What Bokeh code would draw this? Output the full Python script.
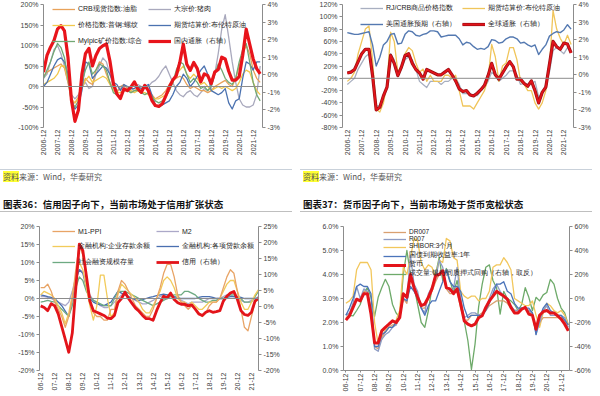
import math
from bokeh.plotting import figure
from bokeh.models import (Range1d, LinearAxis, FixedTicker, Span, Legend, LegendItem,
                          Div, PrintfTickFormatter)
from bokeh.layouts import column, row
from bokeh.embed import file_html
from bokeh.resources import INLINE

# ---------------- data (quarterly, month index 0 = 2006-12) ----------------
months = list(range(0, 187, 3))
year_ticks = [0, 12, 24, 36, 48, 60, 72, 84, 96, 108, 120, 132, 144, 156, 168, 180]
year_labels = ["2006-12", "2007-12", "2008-12", "2009-12", "2010-12", "2011-12", "2012-12",
               "2013-12", "2014-12", "2015-12", "2016-12", "2017-12", "2018-12", "2019-12",
               "2020-12", "2021-12"]
short_labels = ["06-12", "07-12", "08-12", "09-12", "10-12", "11-12", "12-12", "13-12",
                "14-12", "15-12", "16-12", "17-12", "18-12", "19-12", "20-12", "21-12"]

# Panel A (top-left)
a_oil = [25, 35, 40, 45, 50, 55, 45, 10, -35, -40, -25, 0, 20, 10, 5, 40, 60, 55, 30, 10, -5,
         -15, 0, 5, -5, -15, -10, -5, -5, 0, -10, -20, -30, -25, -20, -10, 5, 15, 20, 25, 20,
         5, -5, 0, -5, -10, -10, -15, -10, 0, 5, 10, 15, 5, 0, 20, 50, 80, 100, 80, 40, 20, 10]
a_pork = [20, 30, 60, 90, 100, 80, 50, 10, -20, -30, -20, 0, 10, -5, 0, 30, 50, 70, 60, 30, 0,
          -10, -5, 0, 0, -10, -5, 5, 0, -5, 0, 10, 15, 25, 40, 50, 30, 10, -10, -20, -25,
          -15, -10, -20, -25, -15, -5, -10, 0, 30, 80, 140, 175, 120, 60, 10, -30, -45, -50,
          -50, -45, -20, 50]
a_rebar = [5, 10, 15, 20, 30, 50, 50, 20, -30, -40, -30, -5, 15, 25, 10, 15, 20, 25, 20, 5,
           -10, -15, -15, -10, -5, -10, -15, -10, -15, -15, -20, -25, -30, -30, -25, -20, -10,
           10, 30, 40, 50, 30, 20, 30, 20, 5, 10, 0, -10, -5, 0, -5, 0, -5, -10, -5, 10, 30,
           40, 35, 10, -10, -20]
a_brent = [0, 10, 30, 50, 65, 70, 60, 30, -30, -55, -45, -10, 60, 55, 20, 30, 40, 50, 45, 30,
           10, 5, -10, 5, 0, -5, -5, 0, -5, 0, 5, -20, -45, -50, -45, -40, -35, -20, 0, 10, 30,
           20, 0, 10, 25, 40, 50, 30, -10, -15, -20, -15, -5, -40, -55, -35, -30, 20, 60, 55,
           40, 60, 60]
a_iron = [20, 40, 60, 85, 105, 95, 70, 20, -40, -50, -35, 10, 40, 60, 30, 40, 55, 50, 40, 10,
          -15, -20, -25, -10, -10, -15, -10, -10, -15, -20, -15, -25, -35, -40, -35, -25, -10,
          10, 40, 60, 55, 30, 10, 20, 10, -5, 0, -10, 0, 30, 55, 40, 20, 10, 5, 20, 60, 90,
          105, 60, 10, -20, -35]
a_cpi = [0.15, 1.1, 1.57, 1.95, 2.6, 2.8, 2.5, 1.0, -1.45, -2.65, -2.0, 0.05, 1.2, 1.5, 0.5,
         1.1, 1.5, 1.65, 1.75, 0.8, -0.5, -1.1, -1.35, -0.8, -0.9, -0.7, -0.4, -0.8, -1.0,
         -0.6, -0.9, -1.45, -1.75, -1.8, -1.65, -1.2, -0.7, -0.3, -0.05, 0.7, 1.75, 0.6, 0.25,
         0.7, 0.35, -0.4, 0.05, -0.05, -0.5, 0.15, 0.3, 1.0, 0.9, 0.2, -0.3, -0.3, -0.1, 1.1,
         2.6, 1.75, 0.9, 0.35, 0.05]

# Panel B (top-right)
b_crb = [-10, -5, 0, 15, 25, 35, 40, 10, -45, -45, -30, -15, 40, 30, 5, 15, 30, 35, 30, 15,
         -5, -10, -15, -5, -5, -5, -10, -5, -5, 0, 0, -10, -25, -25, -25, -28, -28, -20, -15,
         -5, 10, 5, -5, 0, 5, 12, 12, 5, -10, -8, -10, -8, -5, -30, -25, -10, 10, 45, 50, 45,
         40, 50, 45]
b_brent = [-5, 0, 10, 40, 60, 80, 85, 30, -50, -55, -40, -10, 75, 60, 10, 20, 40, 50, 45, 25,
           10, 15, -5, 5, -5, -5, -5, 5, 5, 0, 5, -20, -45, -45, -45, -50, -40, -30, -20, 0,
           55, 35, -5, 20, 25, 50, 50, 30, -5, -10, -20, -20, -40, -50, -40, -20, 20, 110, 80,
           65, 55, 70, 55]
b_us = [2.4, 2.35, 2.3, 2.3, 2.35, 2.4, 2.45, 1.7, 0.5, 1.0, 1.7, 1.9, 2.3, 2.35, 1.75, 1.8,
        2.3, 2.5, 2.45, 2.25, 2.2, 2.3, 2.35, 2.5, 2.5, 2.45, 2.15, 2.2, 2.25, 2.25, 2.25,
        2.05, 1.7, 1.85, 1.8, 1.6, 1.45, 1.5, 1.45, 1.6, 2.0, 1.95, 1.8, 1.85, 2.05, 2.15,
        2.15, 2.05, 1.8, 1.85, 1.7, 1.6, 1.7, 1.15, 1.45, 1.7, 2.2, 2.35, 2.45, 2.4, 2.55,
        2.85, 2.6]
b_global = [0.1, 0.15, 0.3, 0.75, 1.2, 1.45, 1.45, -0.05, -2.0, -1.85, -1.2, -0.7, 1.1, 0.65,
            -0.05, 0.45, 1.1, 1.2, 0.65, 0.3, 0.1, -0.25, 0.3, 0.2, 0.1, 0.0, 0.0, 0.15, 0.3,
            0.0, -0.35, -0.8, -0.95, -0.9, -1.15, -1.2, -1.05, -0.85, -0.6, -0.05, 0.65, 0.0,
            -0.25, 0.1, 0.45, 0.75, 0.45, -0.25, -0.25, -0.5, -0.65, -0.35, -0.9, -1.6, -1.0,
            -0.7, 0.6, 1.9, 1.6, 1.45, 1.8, 1.75, 1.25]

# Panel C (bottom-left)
c_m1ppi = [3, 3, 4, 2, -1, -3, -5, -8, -5, 0, 8, 15, 12, 6, 0, -4, -5, -5, -6, -6, -3, -3, 2,
           5, 4, 2, 0, -2, -3, -4, -5, -5, -3, 0, 3, 7, 9.5, 9.5, 6, 1, -1, -2, -3, -2, -3, -4,
           -5, -4, -2, -1, -1, 0, 3, 6, 8, 7, 2, -3, -8, -9, -5, -1, 0]
c_m2 = [0.5, 0.5, 0.3, 0, -0.5, -1, -1.5, -2, -1, 2, 6, 8, 7.5, 4, 1, -0.5, -1, -2, -2.5,
        -2.5, -2, -1, 0, 1, 1, 0.5, 0, -0.5, -1, -1.5, -1.5, -1, -0.5, 0, 0.5, 1, 1, 1, 0.5,
        0, -0.5, -1, -1.5, -1, -1, -1, -1, -0.5, 0, 0, 0, 0, 0.5, 1, 1, 0.5, 0, -0.5, -1, -1,
        -0.5, 0, 0.5]
c_dep = [1, 2, 1.5, 1, 0, -2, -4, -7, -4, 1, 6, 10, 8, 3, -2, -6, -2, 6.5, 6.5, 0, -5, -4, 1,
         4, 3, 2, 1, 0, -1, -3, -4, -4, -2, 0, 2, 5, 6, 5, 3, 0, -1, -1, -2, -1, -2, -3, -3,
         -2, -1, -1, -1, 0, 2, 4, 5, 5, 2, -1, -3, -3, -1, 1, 2.5]
c_loan = [1, 0.8, 0.5, 0.3, 0, -1, -2, -3.5, -5, 0, 5, 8, 7, 3, 0, -1, -1.5, -1.8, -2, -1.5,
          -1, 0.5, 2, 1.5, 1, 0.5, 0, -0.3, -0.5, -0.3, 0, 0.3, 0.5, 0.8, 1, 1.2, 1, 0.8, 0.5,
          0.3, 0, 0, 0, 0, 0, 0.3, 0.5, 0.5, 0.5, 0.3, 0, 0, 0, 0.3, 0.5, 0.5, 0.5, 0.3, 0, 0,
          0, 0, 0]
c_tsf = [-1, -0.8, -0.5, -0.8, -1, -2, -3, -4, -5, -2, 3, 6, 5, 2, 0.5, -0.5, -1, -1.5, -2,
         -2, -2, 0, 2, 2, 2, 1.5, 1, 0.5, 0, -0.5, -1, -1.5, -2, -1.5, -1, -0.5, 0, 0.5, 1, 1,
         1, 2, 2, 1.5, 1, 0, -0.5, -1, -1, -0.5, -0.5, 0, 0, 0.5, 1, 1, 0.5, 0, -1, -1, -1,
         0.5, 2]
c_credit = [0.2, -0.3, -1.3, 0.9, 0.2, -2.3, -6.3, -10.3, -14.3, -8.3, 5.7, 19.5, 17.5, 9.7,
            1.7, -1.3, -1.8, -2.3, -2.8, -3.6, -3.8, -2.8, 1.2, 2.5, 4.5, 2.5, 1.0, -0.5, -1.5,
            -2.8, -3.8, -3.8, -4.3, -1.3, 1.2, 3.2, 2.7, 4.2, 2.2, 1.2, 0.7, 0.7, 0.2, 0.5,
            -0.8, -2.3, -2.8, -1.8, -1.3, -1.8, -1.6, -1.3, 1.7, 3.2, 4.2, 4.7, 2.2, -1.3,
            -2.5, -2.8, -1.8, 1.7, 2.5]

# Panel D (bottom-right)
d_dr007 = [2.2, 2.3, 2.6, 3.0, 2.9, 3.3, 3.3, 2.5, 1.0, 0.9, 1.4, 1.6, 1.8, 1.9, 1.9, 2.2,
           3.0, 2.8, 3.9, 3.4, 3.0, 2.6, 2.6, 3.0, 3.3, 3.7, 4.0, 4.0, 3.4, 3.2, 3.2, 3.3, 2.6,
           2.1, 2.1, 2.3, 2.3, 2.3, 2.4, 2.5, 2.7, 2.8, 2.9, 2.9, 2.9, 2.8, 2.6, 2.5, 2.5, 2.6,
           2.6, 2.5, 2.3, 1.8, 2.0, 2.2, 2.2, 2.2, 2.2, 2.2, 2.2, 2.1, 1.7]
d_r007 = [2.3, 2.4, 2.8, 3.5, 3.0, 3.4, 3.3, 2.6, 0.9, 0.8, 1.3, 1.5, 1.6, 1.8, 1.9, 2.3, 3.2,
          3.0, 4.8, 3.6, 3.3, 2.6, 2.4, 3.2, 3.5, 3.8, 4.6, 4.3, 3.5, 3.3, 3.4, 4.3, 2.9, 2.2,
          2.3, 2.4, 2.4, 2.3, 2.3, 2.6, 3.0, 3.4, 3.6, 3.3, 3.1, 2.9, 2.7, 2.5, 2.5, 2.6, 2.6,
          2.5, 2.4, 1.5, 2.0, 2.5, 2.7, 2.3, 2.3, 2.3, 2.3, 2.2, 1.8]
d_shibor = [2.8, 2.9, 3.1, 4.2, 4.5, 4.5, 4.5, 4.2, 2.0, 1.1, 1.3, 1.7, 1.8, 1.8, 2.1, 2.5,
            4.3, 4.0, 4.7, 5.5, 5.4, 4.5, 4.2, 4.4, 4.3, 3.9, 4.6, 4.5, 5.5, 5.4, 4.7, 4.6,
            3.3, 3.1, 3.0, 3.1, 3.1, 2.9, 3.0, 3.0, 3.3, 4.3, 4.4, 4.4, 4.7, 4.5, 4.2, 3.0,
            2.9, 2.8, 2.7, 2.7, 2.9, 2.3, 1.8, 2.4, 2.8, 2.7, 2.5, 2.4, 2.5, 2.3, 1.9]
d_cgb = [2.3, 2.6, 3.0, 3.5, 3.6, 3.5, 3.5, 3.2, 1.0, 1.0, 1.5, 1.6, 1.8, 1.8, 2.0, 2.3, 3.0,
         2.9, 3.5, 3.3, 3.0, 2.6, 2.3, 2.7, 2.9, 2.9, 3.3, 3.7, 4.2, 3.7, 3.5, 3.5, 3.3, 2.6,
         2.2, 2.3, 2.3, 2.3, 2.3, 2.5, 2.8, 3.2, 3.6, 3.6, 3.7, 3.3, 3.2, 2.8, 2.6, 2.6, 2.6,
         2.6, 2.4, 1.5, 2.2, 2.6, 2.8, 2.5, 2.4, 2.3, 2.3, 2.1, 1.9]
d_money = [2.1, 2.28, 2.63, 2.97, 2.9, 3.2, 3.2, 2.35, 1.15, 1.15, 1.65, 1.8, 1.93, 2.07, 2.0,
           2.2, 3.2, 3.05, 4.0, 3.45, 3.05, 2.7, 2.77, 3.05, 3.4, 3.95, 4.0, 4.15, 3.45, 3.4,
           3.2, 3.4, 2.77, 2.07, 1.93, 1.86, 1.93, 2.2, 2.28, 2.63, 2.9, 3.1, 3.3, 3.2, 3.1,
           2.97, 2.63, 2.4, 2.4, 2.55, 2.63, 2.35, 2.3, 1.72, 2.3, 2.45, 2.5, 2.4, 2.4, 2.28,
           2.14, 1.93, 1.65]
d_volume = [-13, -14, -14.5, -10, -5, 5, 9, 1, -15, 1, 9, 16, 10, -5, -12, -16, 20, 40, 20,
            10, -5, -20, -24, -10, 9, 20, 34, 15, 25, 15, 5, 15, 0, -19, -35, -59, -38, -7,
            12, 26, 28, 15, 9, -13, 6, 0, -2, -5, -10, -5, 9, 1, -10, 1, -2, 3, 5, 16, 12, 0,
            -8, -12, -22]

# ---------------- styling helpers ----------------
LAT = "Liberation Sans"
AXC = "#8c8c8c"
LBL = "#404040"


def make_panel(width, height, xr, yl, yr, borders):
    l, r, t, b = borders
    p = figure(width=width, height=height, x_range=Range1d(*xr), y_range=Range1d(*yl),
               output_backend="svg", toolbar_location=None,
               min_border_left=l, min_border_right=r, min_border_top=t, min_border_bottom=b,
               background_fill_color="white", border_fill_color="white",
               outline_line_color=None, margin=0)
    p.extra_y_ranges = {"r": Range1d(*yr)}
    p.xgrid.visible = False
    p.ygrid.visible = False
    return p


def style_y(ax, ticks, fmt):
    ax.ticker = FixedTicker(ticks=ticks)
    ax.formatter = PrintfTickFormatter(format=fmt)
    ax.axis_line_color = AXC
    ax.major_tick_line_color = AXC
    ax.major_tick_out = 3
    ax.major_tick_in = 0
    ax.minor_tick_line_color = None
    ax.major_label_text_font = LAT
    ax.major_label_text_font_size = "7px"
    ax.major_label_text_color = LBL
    ax.major_label_standoff = 2


def style_x(p, labels, line):
    ax = p.xaxis[0]
    ax.ticker = FixedTicker(ticks=year_ticks)
    ax.major_label_overrides = {t: s for t, s in zip(year_ticks, labels)}
    ax.major_label_orientation = math.pi / 2
    ax.major_label_text_font = LAT
    ax.major_label_text_font_size = "7px"
    ax.major_label_text_color = LBL
    ax.minor_tick_line_color = None
    ax.major_label_standoff = 2
    if line:
        ax.axis_line_color = AXC
        ax.major_tick_line_color = AXC
        ax.major_tick_out = 2
        ax.major_tick_in = 0
        ax.major_label_standoff = 1
    else:
        ax.axis_line_color = None
        ax.major_tick_line_color = None
        ax.major_tick_out = 0
        ax.major_tick_in = 0


def add_axes(p, lt, lf, rt, rf):
    style_y(p.yaxis[0], lt, lf)
    rax = LinearAxis(y_range_name="r")
    style_y(rax, rt, rf)
    p.add_layout(rax, "right")


def zero_line(p):
    p.add_layout(Span(location=0, dimension="width", line_color=AXC, line_width=1))


def add_legend(p, items, loc, ncols, spacing, size="7px", gh=8):
    lg = Legend(items=items, location=loc,
                orientation="horizontal" if ncols > 1 else "vertical",
                label_text_font=LAT, label_text_font_size=size, label_text_color="#222222",
                glyph_width=23, glyph_height=gh, label_height=gh, label_standoff=3,
                spacing=spacing, padding=0, margin=0,
                background_fill_alpha=0, border_line_color=None)
    if ncols > 1:
        lg.ncols = ncols
    p.add_layout(lg)


def ln(p, y, color, w, right=False):
    kw = dict(y_range_name="r") if right else {}
    return p.line(months, y, line_color=color, line_width=w, line_join="round", **kw)


# ---------------- Panel A ----------------
pa = make_panel(300, 168, (0, 188), (-100, 200), (-3, 4), (43, 38, 4, 41))
add_axes(pa, [-100, -50, 0, 50, 100, 150, 200], "%d%%", [-3, -2, -1, 0, 1, 2, 3, 4], "%d%%")
style_x(pa, year_labels, False)
zero_line(pa)
ra_pork = ln(pa, a_pork, "#A9A9BD", 1.3)
ra_oil = ln(pa, a_oil, "#E8A25A", 1.3)
ra_rebar = ln(pa, a_rebar, "#F2C84B", 1.3)
ra_brent = ln(pa, a_brent, "#4B72B0", 1.3)
ra_iron = ln(pa, a_iron, "#72A874", 1.3)
ra_cpi = ln(pa, a_cpi, "#E8141B", 3.2, right=True)
add_legend(pa, [
    LegendItem(label="CRB现货指数:油脂", renderers=[ra_oil]),
    LegendItem(label="大宗价:猪肉", renderers=[ra_pork]),
    LegendItem(label="价格指数:普钢:螺纹", renderers=[ra_rebar]),
    LegendItem(label="期货结算价:布伦特原油", renderers=[ra_brent]),
    LegendItem(label="Mylpic矿价指数:综合", renderers=[ra_iron]),
    LegendItem(label="国内通胀（右轴）", renderers=[ra_cpi]),
], (9, 81), 2, 6)

# ---------------- Panel B ----------------
pb = make_panel(300, 168, (-4, 188), (-80, 120), (-3, 4), (42, 27, 1, 37))
add_axes(pb, [-80, -60, -40, -20, 0, 20, 40, 60, 80, 100, 120], "%d%%",
         [-3, -2, -1, 0, 1, 2, 3, 4], "%d%%")
style_x(pb, year_labels, False)
zero_line(pb)
rb_crb = ln(pb, b_crb, "#A8AFC0", 1.3)
rb_brent = ln(pb, b_brent, "#F0C55A", 1.3)
rb_us = ln(pb, b_us, "#5479B1", 1.4, right=True)
rb_glob_dark = ln(pb, b_global, "#9A0F14", 3.2, right=True)
rb_glob = ln(pb, b_global, "#E2141A", 1.8, right=True)
add_legend(pb, [
    LegendItem(label="RJ/CRB商品价格指数", renderers=[rb_crb]),
    LegendItem(label="期货结算价:布伦特原油", renderers=[rb_brent]),
    LegendItem(label="美国通胀预期（右轴）", renderers=[rb_us]),
    LegendItem(label="全球通胀（右轴）", renderers=[rb_glob_dark, rb_glob]),
], (18, 98), 2, 6)

# ---------------- Panel C ----------------
pc = make_panel(300, 182, (-1, 186), (-20, 20), (-20, 25), (39, 42, 14, 20))
add_axes(pc, [-20, -15, -10, -5, 0, 5, 10, 15, 20], "%d%%",
         [-20, -15, -10, -5, 0, 5, 10, 15, 20, 25], "%d%%")
style_x(pc, short_labels, False)
zero_line(pc)
rc_m2 = ln(pc, c_m2, "#ABA8C8", 1.3)
rc_loan = ln(pc, c_loan, "#4A6FB0", 1.3)
rc_tsf = ln(pc, c_tsf, "#6DAA82", 1.3)
rc_dep = ln(pc, c_dep, "#F2CB5A", 1.3)
rc_m1 = ln(pc, c_m1ppi, "#E8A466", 1.3)
rc_credit = ln(pc, c_credit, "#E3141A", 2.8, right=True)
add_legend(pc, [
    LegendItem(label="M1-PPI", renderers=[rc_m1]),
    LegendItem(label="M2", renderers=[rc_m2]),
    LegendItem(label="金融机构:企业存款余额", renderers=[rc_dep]),
    LegendItem(label="金融机构:各项贷款余额", renderers=[rc_loan]),
    LegendItem(label="社会融资规模存量", renderers=[rc_tsf]),
    LegendItem(label="信用（右轴）", renderers=[rc_credit]),
], (13, 103), 2, 6)

# ---------------- Panel D ----------------
pd_ = make_panel(300, 182, (-2, 187), (0, 6), (-60, 60), (43, 31, 14, 22))
add_axes(pd_, [0, 1, 2, 3, 4, 5, 6], "%.1f%%", [-60, -40, -20, 0, 20, 40, 60], "%d%%")
style_x(pd_, short_labels, True)
rd_vol = ln(pd_, d_volume, "#6EAA6A", 1.3, right=True)
rd_shibor = ln(pd_, d_shibor, "#F2C75C", 1.3)
rd_dr = ln(pd_, d_dr007, "#D9A070", 1.3)
rd_r = ln(pd_, d_r007, "#8E9CC4", 1.3)
rd_cgb = ln(pd_, d_cgb, "#4B74BA", 1.3)
rd_money = ln(pd_, d_money, "#E3141A", 3.0)
add_legend(pd_, [
    LegendItem(label="DR007", renderers=[rd_dr]),
    LegendItem(label="R007", renderers=[rd_r]),
    LegendItem(label="SHIBOR:3个月", renderers=[rd_shibor]),
    LegendItem(label="国债到期收益率:1年", renderers=[rd_cgb]),
    LegendItem(label="货币", renderers=[rd_money]),
    LegendItem(label="成交量:银行间质押式回购（右轴，取反）", renderers=[rd_vol]),
], (40, 92), 1, 0, size="6.5px", gh=6)

# ---------------- text blocks ----------------
SRC = ('<div style="width:292px;border-top:1px solid #c9d1da;padding:2px 0 0 3px;'
       'font-family:\'Noto Sans CJK SC\';font-size:8px;color:#555;line-height:10px;">'
       '<span style="background:#ffff33;">资料</span>来源：Wind，华泰研究</div>')


def title_html(t):
    return ('<div style="width:292px;border-bottom:1px solid #bfbfbf;padding:13px 0 1px 3px;'
            'font-family:\'Noto Sans CJK SC\';font-weight:bold;font-size:9.5px;color:#111;'
            'line-height:11px;white-space:nowrap;">' + t + '</div>')


src_a = Div(text=SRC, width=300, height=18, margin=0)
src_b = Div(text=SRC, width=300, height=18, margin=0)
tit_c = Div(text=title_html("图表36：信用因子向下，当前市场处于信用扩张状态"),
            width=300, height=26, margin=0)
tit_d = Div(text=title_html("图表37：货币因子向下，当前市场处于货币宽松状态"),
            width=300, height=26, margin=0)

layout = column(row(pa, pb, spacing=0), row(src_a, src_b, spacing=0),
                row(tit_c, tit_d, spacing=0), row(pc, pd_, spacing=0), spacing=0)

open("out.html", "w").write(file_html(layout, INLINE))
